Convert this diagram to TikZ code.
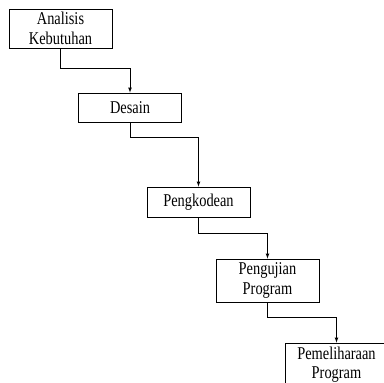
\documentclass[tikz,border=0pt]{standalone}
\usepackage{fontspec}
\setmainfont{Liberation Serif}[FakeStretch=0.8]
\usepackage{tikz}

\begin{document}
\begin{tikzpicture}[x=1pt, y=-1pt, >=latex, line width=0.7pt]
\useasboundingbox (0,0) rectangle (384,383);
\tikzset{tahap/.style={draw, line width=0.8pt, minimum width=103pt, text width=100pt, align=center, inner sep=1pt, font=\fontsize{18}{19.5}\selectfont}}
\node[tahap, minimum height=39pt] (A) at (60.5,28.5) {Analisis\\Kebutuhan};
\node[tahap, minimum height=29pt] (D) at (130,107.5) {Desain};
\node[tahap, minimum height=30pt] (K) at (198.5,202) {Pengkodean};
\node[tahap, minimum height=43pt] (U) at (267.5,280.5) {Pengujian\\Program};
\node[tahap, minimum height=43pt] (P) at (336.5,364.5) {Pemeliharaan\\Program};
\foreach \i/\j/\d in {A/D/20, D/K/15, K/U/16, U/P/15} {
  \draw[->] (\i.south) -- ++(0,\d) -| (\j.north);
}
\end{tikzpicture}
\end{document}
